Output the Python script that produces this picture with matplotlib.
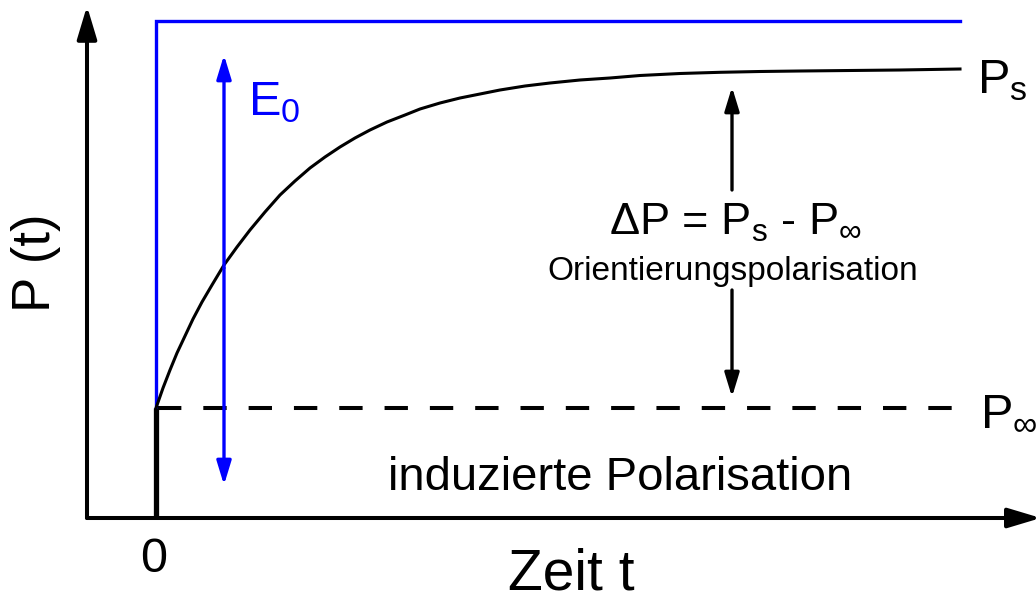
import numpy as np
import matplotlib
matplotlib.use("Agg")
import matplotlib.pyplot as plt

plt.rcParams['font.family'] = ['Liberation Sans', 'DejaVu Sans']
plt.rcParams['mathtext.fontset'] = 'custom'
plt.rcParams['mathtext.rm'] = 'Liberation Sans'
plt.rcParams['mathtext.it'] = 'Liberation Sans'

# polarisation step response P(t) after switching on the field at t = 0
t_curve = [0.0, 0.0875, 0.175, 0.2625, 0.3625, 0.4625, 0.575, 0.7, 0.85, 1.0125,
           1.175, 1.3625, 1.55, 1.7375, 1.925, 2.1125, 2.3, 2.4875, 2.675, 2.8875,
           3.1125, 3.3, 3.55, 3.8, 4.05, 4.3, 4.6125, 4.925, 5.3, 5.675,
           6.05, 6.55, 7.05, 7.55, 8.05, 8.675, 9.3, 10.05]
P_curve = [1.10, 1.30, 1.48, 1.65, 1.82, 1.99, 2.16, 2.33, 2.53, 2.71,
           2.88, 3.06, 3.23, 3.37, 3.50, 3.61, 3.71, 3.80, 3.88, 3.96,
           4.03, 4.09, 4.15, 4.20, 4.24, 4.28, 4.32, 4.35, 4.38, 4.40,
           4.425, 4.445, 4.457, 4.465, 4.47, 4.475, 4.48, 4.49]

t_end = 10.05      # end of the drawn time range
P_inf = 1.10       # induced part
P_s = 4.49         # static polarisation
E_level = 4.97     # field step height
t_E_arrow = 0.85   # position of the E0 arrow
t_dP_arrow = 7.2   # position of the Delta P arrow

# axis frame (time / polarisation units)
t_axis = -0.8625
t_axis_end = 11.06
P_axis_top = 5.12


def arrow(ax, start, end, color, lw, hl, hw, ms=20):
    ax.annotate("", xy=end, xytext=start, annotation_clip=False,
                arrowprops=dict(arrowstyle="-|>,head_length=%g,head_width=%g" % (hl, hw),
                                color=color, lw=lw, mutation_scale=ms,
                                shrinkA=0, shrinkB=0))


fig = plt.figure(figsize=(10.36, 5.99), dpi=100)
ax = fig.add_axes([0, 0, 1, 1])
ax.set_xlim(-1.95, 11.0)
ax.set_ylim(-0.81, 5.18)
ax.axis("off")

# axes with arrow heads
arrow(ax, (t_axis, 0), (t_axis, P_axis_top), "black", 2.9, 1.0, 0.3)
arrow(ax, (t_axis, 0), (t_axis_end, 0), "black", 2.9, 1.0, 0.3)

# field step E0
ax.plot([0, 0, t_end], [P_inf, E_level, E_level], color="#0000ff", lw=2.4,
        solid_joinstyle="miter")
arrow(ax, (t_E_arrow, 2.5), (t_E_arrow, 4.63), "#0000ff", 2.4, 0.72, 0.22)
arrow(ax, (t_E_arrow, 2.5), (t_E_arrow, 0.33), "#0000ff", 2.4, 0.72, 0.22)
ax.text(1.15, 4.03, r"E$_0$", color="#0000ff", fontsize=35, ha="left", va="baseline")

# instantaneous jump and relaxation curve
ax.plot([0, 0], [0, P_inf], color="black", lw=3.8, solid_capstyle="butt")
ax.plot(t_curve, P_curve, color="black", lw=2.2, solid_joinstyle="round")
ax.plot([0.03, t_end], [P_inf, P_inf], color="black", lw=2.9, linestyle=(0, (5.8, 5.45)))

# Delta P arrow with a gap for the labels
arrow(ax, (t_dP_arrow, 3.28), (t_dP_arrow, 4.31), "black", 2.4, 0.72, 0.22)
arrow(ax, (t_dP_arrow, 2.28), (t_dP_arrow, 1.21), "black", 2.4, 0.72, 0.22)

ax.text(7.24, 2.83, "\u0394P = P$_\\mathrm{s}$ - P$_\u221e$", fontsize=32.5,
        ha="center", va="baseline")
ax.text(7.21, 2.38, "Orientierungspolarisation", fontsize=24, ha="center", va="baseline")
ax.text(5.8, 0.28, "induzierte Polarisation", fontsize=34, ha="center", va="baseline")

ax.text(10.26, 4.25, r"P$_\mathrm{s}$", fontsize=35, ha="left", va="baseline")
ax.text(10.30, 0.93, "P$_\u221e$", fontsize=35, ha="left", va="baseline")

ax.text(-0.025, -0.54, "0", fontsize=35, ha="center", va="baseline")
ax.text(5.19, -0.72, "Zeit t", fontsize=41, ha="center", va="baseline")
ax.text(-1.5, 2.55, "P (t)", fontsize=38, rotation=90, ha="center", va="center")

fig.savefig("out.png", dpi=100)
